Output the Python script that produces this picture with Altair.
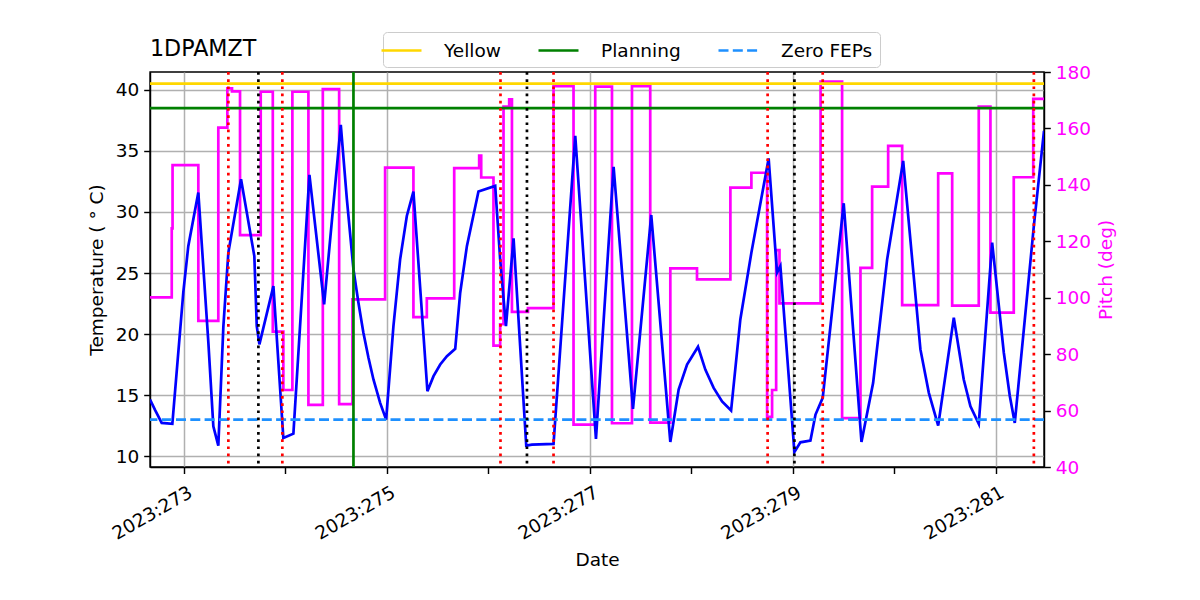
import altair as alt
import pandas as pd

# ---- data (2023 day-of-year) ----
temp_day = [272.667, 272.716, 272.782, 272.887, 272.995, 273.044, 273.143, 273.242, 273.291, 273.340,
            273.390, 273.439, 273.564, 273.695, 273.719, 273.745, 273.883, 273.981, 274.080, 274.238,
            274.383, 274.547, 274.607, 274.672, 274.721, 274.770, 274.820, 274.869, 274.935, 274.994,
            275.066, 275.132, 275.198, 275.263, 275.401, 275.461, 275.527, 275.593, 275.675, 275.724,
            275.790, 275.904, 276.069, 276.118, 276.175, 276.250, 276.375, 276.431, 276.644, 276.858,
            277.062, 277.236, 277.427, 277.607, 277.795, 277.877, 277.960, 278.068, 278.140, 278.222,
            278.305, 278.394, 278.485, 278.594, 278.764, 278.847, 278.880, 279.018, 279.077, 279.176,
            279.226, 279.297, 279.504, 279.679, 279.794, 279.932, 280.090, 280.260, 280.343, 280.435,
            280.589, 280.687, 280.753, 280.835, 280.967, 281.082, 281.141, 281.190, 281.378, 281.478]
temp_deg = [14.65, 13.8, 12.74, 12.66, 23.42, 27.2, 31.59, 19.3, 12.46, 10.88,
            20.66, 26.67, 32.68, 26.39, 20.66, 19.16, 23.93, 11.5, 11.86, 33.03,
            22.43, 37.13, 31.04, 25.3, 22.57, 20.11, 18.07, 16.29, 14.38, 13.01,
            20.66, 26.12, 29.67, 31.67, 15.33, 16.56, 17.52, 18.2, 18.8, 23.39,
            27.2, 31.67, 32.13, 26.12, 20.66, 27.83, 10.88, 10.96, 11.02, 36.23,
            11.43, 33.69, 13.89, 29.75, 11.18, 15.47, 17.52, 18.97, 17.1, 15.6,
            14.5, 13.75, 21.2, 26.67, 34.38, 25.03, 25.57, 10.35, 11.15, 11.29,
            13.42, 14.79, 30.71, 11.18, 16.02, 26.12, 34.18, 18.75, 15.2, 12.52,
            21.34, 16.29, 14.1, 12.66, 27.49, 18.48, 14.94, 12.74, 28.85, 36.64]

pitch_day = [272.667, 272.881, 272.889, 273.143, 273.340, 273.429, 273.475, 273.554, 273.758, 273.877,
             273.981, 274.070, 274.228, 274.370, 274.531, 274.662, 274.984, 275.263, 275.395, 275.665,
             275.911, 275.931, 276.052, 276.118, 276.151, 276.207, 276.234, 276.392, 276.644, 276.841,
             277.055, 277.220, 277.417, 277.597, 277.795, 278.058, 278.387, 278.594, 278.749, 278.798,
             278.838, 278.871, 279.276, 279.488, 279.669, 279.784, 279.942, 280.080, 280.435, 280.573,
             280.835, 280.950, 281.180, 281.372, 281.478]
pitch_deg = [100.1, 124.6, 147.0, 91.8, 160.3, 174.2, 173.1, 122.2, 173.0, 88.0,
             67.3, 173.0, 62.0, 173.9, 62.3, 99.4, 146.1, 93.1, 99.8, 145.9,
             150.4, 142.6, 83.0, 90.6, 167.7, 170.3, 95.0, 96.3, 175.0, 55.0,
             174.8, 55.5, 175.0, 55.7, 110.4, 106.5, 139.0, 144.3, 57.8, 67.3,
             116.9, 98.0, 176.6, 57.3, 110.6, 139.4, 153.8, 97.4, 144.1, 97.2,
             167.7, 94.7, 142.7, 170.5, 170.5]

limit_names = ["Yellow", "Planning", "Zero FEPs"]
limit_values = [40.5, 38.5, 13.0]
limit_colors = ["#ffd700", "#008000", "#1e90ff"]

red_days = [273.439, 273.971, 276.121, 276.644, 278.754, 279.297, 281.378]
black_days = [273.735, 276.382, 279.018]
green_days = [274.672]

x_ticks = [273, 274, 275, 276, 277, 278, 279, 280, 281]
temp_ticks = [10, 15, 20, 25, 30, 35, 40]
pitch_ticks = [40, 60, 80, 100, 120, 140, 160, 180]
x_domain = [272.6667, 281.478]
temp_domain = [9.13, 41.45]
pitch_domain = [40, 180]

FONT = "DejaVu Sans"
FS = 18.5
LW = 2.7

temp_df = pd.DataFrame({"day": temp_day, "T": temp_deg})
pitch_df = pd.DataFrame({"day": pitch_day, "P": pitch_deg})
limits_df = pd.DataFrame({"name": limit_names, "T": limit_values})
red_df = pd.DataFrame({"day": red_days})
black_df = pd.DataFrame({"day": black_days})
green_df = pd.DataFrame({"day": green_days})

x_enc = alt.X(
    "day:Q",
    scale=alt.Scale(domain=x_domain, nice=False, zero=False),
    axis=alt.Axis(
        values=x_ticks,
        labelExpr="datum.value % 2 == 1 ? '2023:' + datum.value : ''",
        labelAngle=330, labelAlign="right", labelBaseline="top",
        labelPadding=9, labelOffset=2, labelOverlap=False, labelFlush=False,
        tickSize=6.5, grid=True,
        gridOpacity={"condition": {"test": "datum.value % 2 == 0", "value": 0}, "value": 1},
        title="Date", titlePadding=8,
    ),
)

y_temp = alt.Y(
    "T:Q",
    scale=alt.Scale(domain=temp_domain, nice=False, zero=False),
    axis=alt.Axis(orient="left", values=temp_ticks, grid=True, tickSize=6.3,
                  labelPadding=5, title="Temperature ( ° C)", titlePadding=9),
)

y_pitch = alt.Y(
    "P:Q",
    scale=alt.Scale(domain=pitch_domain, nice=False, zero=False),
    axis=alt.Axis(orient="right", values=pitch_ticks, grid=False, tickSize=6.3,
                  labelPadding=5, labelColor="#ff00ff", title="Pitch (deg)",
                  titleColor="#ff00ff", titleAngle=270, titleBaseline="top", titlePadding=6),
)

leg = alt.Legend(
    title=None, orient="none", legendX=233, legendY=-40, direction="horizontal",
    symbolType="M-2,0H2", symbolSize=400, symbolStrokeWidth=LW,
    labelFontSize=FS, labelFont=FONT, labelOffset=31, columnPadding=32,
    padding=7, fillColor="white", strokeColor="#cccccc", cornerRadius=4,
)

temp_line = alt.Chart(temp_df).mark_line(color="#0000ff", strokeWidth=LW, clip=True).encode(
    x=x_enc, y=y_temp)

limits = alt.Chart(limits_df).mark_rule(strokeWidth=LW).encode(
    y=y_temp,
    color=alt.Color("name:N", scale=alt.Scale(domain=limit_names, range=limit_colors), legend=leg),
    strokeDash=alt.StrokeDash("name:N", scale=alt.Scale(domain=limit_names,
                              range=[[1, 0], [1, 0], [10, 4.3]]), legend=leg),
)

red_rules = alt.Chart(red_df).mark_rule(color="#ff0000", strokeWidth=LW, strokeDash=[2.7, 4.5]).encode(x=x_enc)
black_rules = alt.Chart(black_df).mark_rule(color="#000000", strokeWidth=LW, strokeDash=[2.7, 4.5]).encode(x=x_enc)
green_rules = alt.Chart(green_df).mark_rule(color="#008000", strokeWidth=LW).encode(x=x_enc)

temp_group = alt.layer(temp_line, limits, red_rules, black_rules, green_rules)

pitch_line = alt.Chart(pitch_df).mark_line(color="#ff00ff", strokeWidth=LW, interpolate="step-after",
                                           clip=True).encode(x=x_enc, y=y_pitch)

chart = alt.layer(pitch_line, temp_group).resolve_scale(y="independent").properties(
    width=894, height=395,
    background="white",
    autosize=alt.AutoSizeParams(type="none"),
    padding={"left": 142, "top": 64, "right": 148, "bottom": 125},
    title=alt.TitleParams(text="1DPAMZT", anchor="start", frame="group", fontSize=22.2,
                          fontWeight="normal", font=FONT, color="black", offset=10, dy=39),
).configure_axis(
    labelFont=FONT, titleFont=FONT, labelFontSize=FS, titleFontSize=FS,
    titleFontWeight="normal", labelColor="black", titleColor="black",
    tickColor="black", domainColor="black", tickWidth=1.44, domainWidth=1.44,
    gridColor="#b0b0b0", gridWidth=1.5,
).configure_view(stroke="black", strokeWidth=1.44)

chart.save("out.html", embed_options={"renderer": "svg", "actions": False})
